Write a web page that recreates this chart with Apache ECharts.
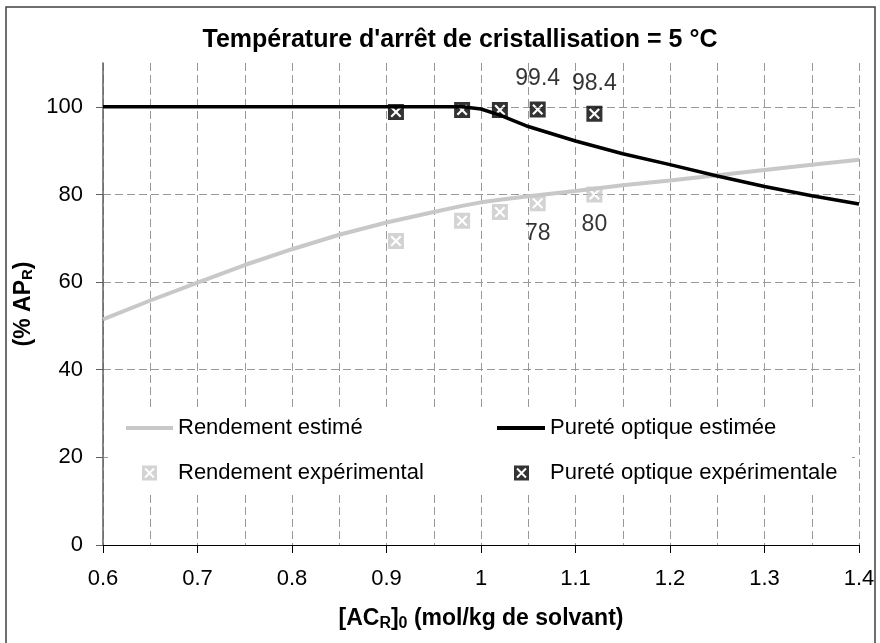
<!DOCTYPE html>
<html>
<head>
<meta charset="utf-8">
<script src="https://cdn.jsdelivr.net/npm/echarts@6/dist/echarts.min.js"></script>
<style>
html,body{margin:0;padding:0;background:#fff;}
#chart{width:880px;height:643px;}
</style>
</head>
<body>
<div id="chart"></div>
<script>
// Estimated curves
var xEst = [0.6, 0.65, 0.7, 0.75, 0.8, 0.85, 0.9, 0.95, 0.98, 1.0, 1.02, 1.05, 1.1, 1.15, 1.2, 1.25, 1.3, 1.35, 1.4];
var rendementEst = [51.5, 55.8, 59.9, 63.9, 67.5, 70.8, 73.6, 76.0, 77.4, 78.2, 78.8, 79.6, 80.8, 82.1, 83.2, 84.4, 85.6, 86.8, 87.9];
var pureteEst = [100, 100, 100, 100, 100, 100, 100, 100, 100, 99.5, 98.1, 95.5, 92.2, 89.3, 86.8, 84.2, 81.8, 79.7, 77.8];
// Experimental points
var xExp = [0.91, 0.98, 1.02, 1.06, 1.12];
var rendementExp = [69.4, 74.0, 76.0, 78.0, 80.0];
var pureteExp = [98.8, 99.3, 99.3, 99.4, 98.4];
var rendementLabels = ['', '', '', '78', '80'];
var pureteLabels = ['', '', '', '99.4', '98.4'];
var yTicks = [0, 20, 40, 60, 80, 100];

var FONT = 'Liberation Sans, Arial, sans-serif';
var GREY = '#c8c8c8';
var markerPath = 'path://M0 0L32 0L32 32L0 32Z M13 16L5 24L8 27L16 19L24 27L27 24L19 16L27 8L24 5L16 13L8 5L5 8Z';

function pairs(xs, ys) { return xs.map(function (x, i) { return [x, ys[i]]; }); }
function labelled(xs, ys, labels, pos) {
  return xs.map(function (x, i) {
    var d = { value: [x, ys[i]] };
    if (labels[i]) {
      d.label = { show: true, position: pos, distance: 11, formatter: labels[i],
        fontFamily: FONT, fontSize: 23, color: '#000' };
    }
    return d;
  });
}

var chart = echarts.init(document.getElementById('chart'), null, { renderer: 'canvas' });
var legendText = { fontFamily: FONT, fontSize: 22, color: '#000' };
var legendTextPad = { fontFamily: FONT, fontSize: 22, color: '#000', padding: [0, 0, 0, 16] };
var option = {
  animation: false,
  backgroundColor: '#fff',
  title: {
    text: "Température d'arrêt de cristallisation = 5 °C",
    left: 455, top: 23, textAlign: 'center',
    textStyle: { fontFamily: FONT, fontSize: 25, fontWeight: 'bold', color: '#000' }
  },
  graphic: [
    { type: 'rect', z: 0, shape: { x: 6, y: 7, width: 869, height: 660 },
      style: { fill: 'none', stroke: '#404040', lineWidth: 1.5 } },
    { type: 'rect', z: 1, shape: { x: 108, y: 408, width: 744, height: 86 },
      style: { fill: '#fff' } }
  ],
  legend: [
    { data: [{ name: 'Rendement estimé', icon: 'rect' }], left: 126, top: 417, padding: 0,
      itemWidth: 47, itemHeight: 4, textStyle: legendText },
    { data: [{ name: 'Pureté optique estimée', icon: 'rect' }], left: 497, top: 417, padding: 0,
      itemWidth: 48, itemHeight: 4, textStyle: legendText },
    { data: [{ name: 'Rendement expérimental', icon: markerPath }], left: 142, top: 462, padding: 0,
      itemWidth: 15, itemHeight: 15, textStyle: legendTextPad },
    { data: [{ name: 'Pureté optique expérimentale', icon: markerPath }], left: 514, top: 462, padding: 0,
      itemWidth: 15, itemHeight: 15, textStyle: legendTextPad }
  ],
  grid: { left: 103, right: 21, top: 63, bottom: 98, containLabel: false },
  xAxis: {
    type: 'value', min: 0.6, max: 1.4, interval: 0.1,
    name: '[AC{sub|R}]{sub|0} (mol/kg de solvant)',
    nameLocation: 'middle', nameGap: 61,
    nameTextStyle: {
      fontFamily: FONT, fontSize: 23, fontWeight: 'bold', color: '#000',
      rich: { sub: { fontFamily: FONT, fontSize: 16, fontWeight: 'bold', color: '#000', verticalAlign: 'bottom', padding: [10, 0, 0, 0] } }
    },
    axisLine: { show: true, lineStyle: { color: '#000', width: 1 } },
    axisTick: { show: true, length: 8, lineStyle: { color: '#000' } },
    axisLabel: {
      fontFamily: FONT, fontSize: 22, color: '#000', margin: 23,
      formatter: function (v) { return String(parseFloat(v.toFixed(2))); }
    },
    splitLine: { show: true, lineStyle: { color: '#999', type: [8, 4], width: 1 } },
    minorTick: { show: false, splitNumber: 2 },
    minorSplitLine: { show: true, lineStyle: { color: '#999', type: [8, 4], width: 1 } }
  },
  yAxis: {
    type: 'value', min: 0, max: 110, interval: 20,
    name: '(% AP{sub|R})',
    nameLocation: 'middle', nameGap: 56, nameRotate: 90,
    nameTextStyle: {
      fontFamily: FONT, fontSize: 23, fontWeight: 'bold', color: '#000',
      rich: { sub: { fontFamily: FONT, fontSize: 15, fontWeight: 'bold', color: '#000', verticalAlign: 'bottom', padding: [8, 0, 0, 0] } }
    },
    axisLine: { show: true, lineStyle: { color: '#606060', width: 1.5 } },
    axisTick: { show: true, length: 7, lineStyle: { color: '#606060' }, customValues: yTicks },
    axisLabel: {
      fontFamily: FONT, fontSize: 22, color: '#000', margin: 20, customValues: yTicks,
      formatter: function (v) { return v > 100 ? '' : String(v); }
    },
    splitLine: { show: true, lineStyle: { color: '#999', type: [8, 4], width: 1 } }
  },
  series: [
    { name: 'Rendement estimé', type: 'line', data: pairs(xEst, rendementEst),
      symbol: 'none', smooth: false, color: GREY,
      lineStyle: { color: GREY, width: 4 }, z: 3 },
    { name: 'Pureté optique estimée', type: 'line', data: pairs(xEst, pureteEst),
      symbol: 'none', smooth: false, color: '#000',
      lineStyle: { color: '#000', width: 3.5 }, z: 3 },
    { name: 'Rendement expérimental', type: 'scatter', data: labelled(xExp, rendementExp, rendementLabels, 'bottom'),
      symbol: markerPath, symbolSize: 16, symbolKeepAspect: true, color: GREY,
      itemStyle: { color: GREY }, z: 4 },
    { name: 'Pureté optique expérimentale', type: 'scatter', data: labelled(xExp, pureteExp, pureteLabels, 'top'),
      symbol: markerPath, symbolSize: 16, symbolKeepAspect: true, color: '#000',
      itemStyle: { color: '#000' }, z: 4 }
  ]
};
chart.setOption(option);
</script>
</body>
</html>
